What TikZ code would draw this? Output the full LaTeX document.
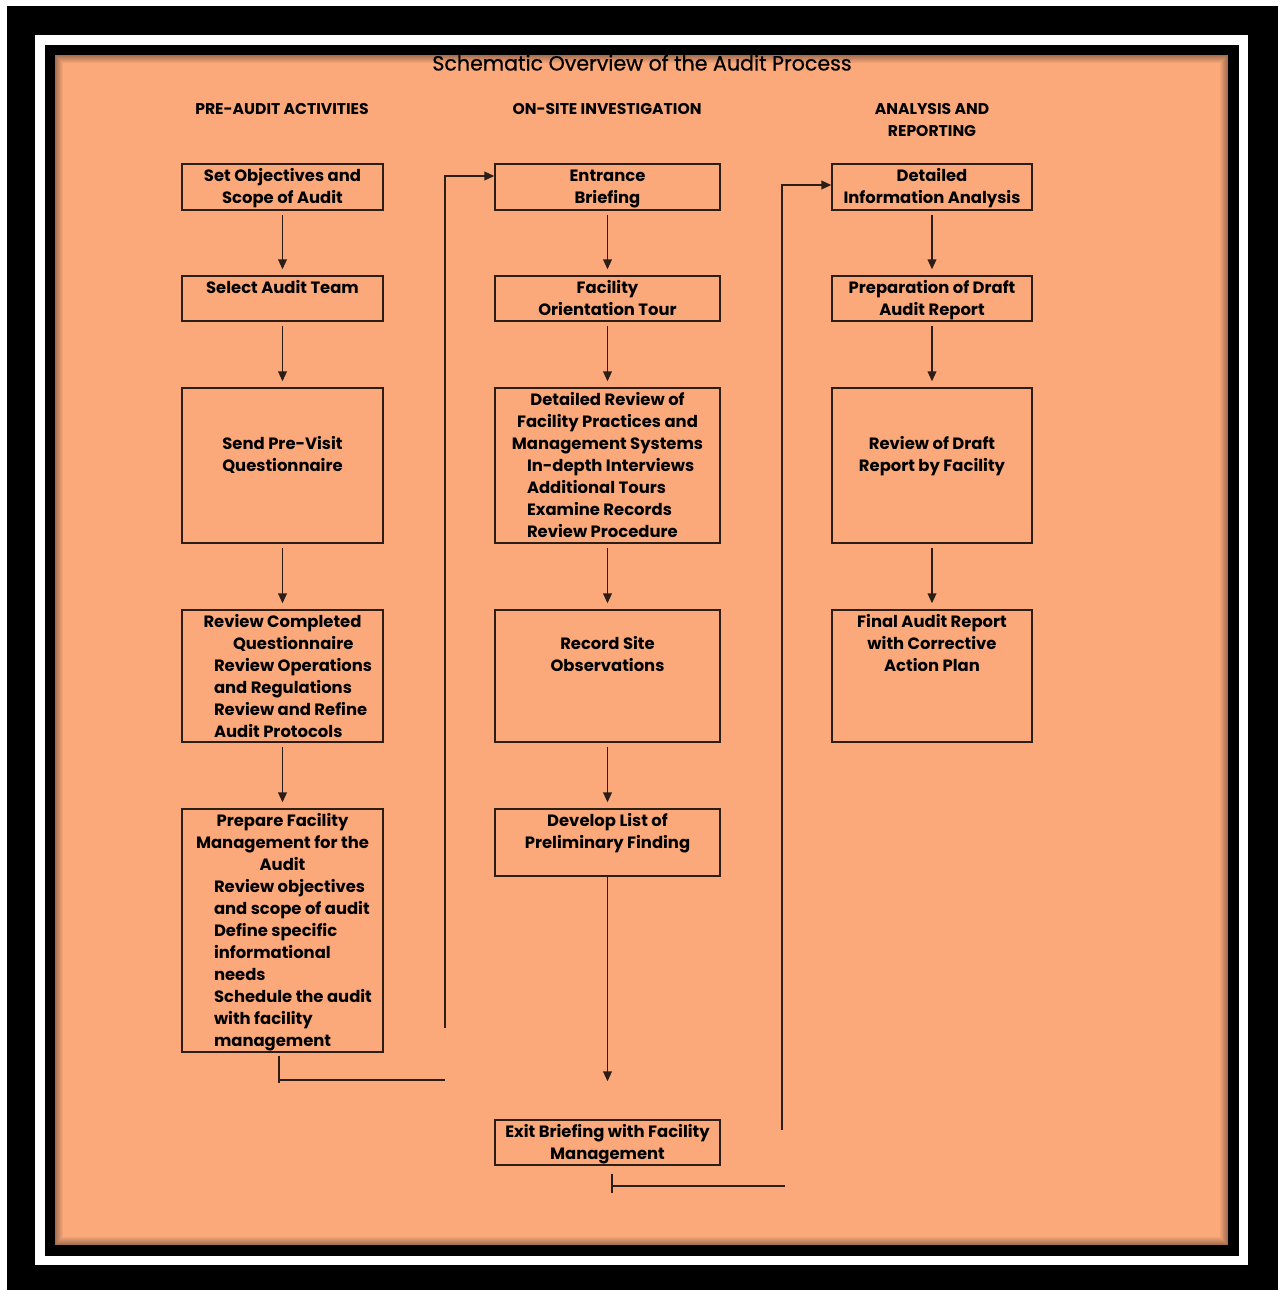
\documentclass[tikz,border=0pt]{standalone}
\usepackage{fontspec}
\setmainfont{Poppins}
\newfontfamily\titlefont[FakeBold=0.6]{Poppins}
\usetikzlibrary{arrows.meta}
\definecolor{salmon}{HTML}{FBA97A}
\definecolor{edge}{HTML}{2A1E17}
\newlength\pu
\setlength\pu{0.5pt}
\newcommand{\boxtxt}[4]{\parbox[c][#2\pu][t]{#1\pu}{\centering\vspace*{\dimexpr#3\pu-7.7pt\relax}\strut#4}}
\newcommand{\lline}[2]{\makebox[\linewidth][l]{\hspace*{#1\pu}#2}}
\tikzset{stage/.style = {draw = edge, line width = 0.7pt, inner sep = 0, font = \bfseries\fontsize{8.2}{11}\selectfont}}
\tikzset{head/.style = {inner sep = 0, anchor = north, align = center, font = \bfseries\fontsize{7.8}{11}\selectfont}}
\tikzset{flow/.style = {draw = edge, line width = 0.7pt, -{Triangle[length=5pt, width=4.4pt]}, shorten <= 2pt, shorten >= 3pt}}
\tikzset{wire/.style = {draw = edge, line width = 0.7pt}}

\begin{document}
\begin{tikzpicture}[x=0.5pt, y=-0.5pt]
  \useasboundingbox (0,0) rectangle (1285,1290);
  \fill[white] (0,0) rectangle (1285,1290);
  \fill[black] (7,6) rectangle (1278,1290);
  \fill[white] (35,35) rectangle (1248,1265);
  \fill[black] (45,45) rectangle (1239,1256);
  \fill[salmon] (55,55) rectangle (1228,1245);
  % soft inner edge
  \foreach \i [evaluate = \i as \op using 0.34-0.042*\i] in {0,...,7}
    \draw[black, opacity = \op, line width = 0.5pt] ({55.5+\i},{55.5+\i}) rectangle ({1227.5-\i},{1244.5-\i});

  \node[anchor = base, font = \titlefont\fontsize{10.3}{13}\selectfont] (title) at (642,70.5) {Schematic Overview of the Audit Process};
  \node[head] (h1) at (282,103) {PRE-AUDIT ACTIVITIES};
  \node[head] (h2) at (607,103) {ON-SITE INVESTIGATION};
  \node[head] (h3) at (932,103) {ANALYSIS AND\\REPORTING};

  \node[stage] (pre1) at (282.5,187) {\boxtxt{201}{46}{17}{Set Objectives and\\Scope of Audit}};
  \node[stage] (pre2) at (282.5,298.5) {\boxtxt{201}{45}{17}{Select Audit Team}};
  \node[stage] (pre3) at (282.5,465.5) {\boxtxt{201}{155}{61}{Send Pre-Visit\\Questionnaire}};
  \node[stage] (pre4) at (282.5,676) {\boxtxt{201}{132}{17}{Review Completed\\\lline{51}{Questionnaire}\\\lline{32}{Review Operations}\\\lline{32}{and Regulations}\\\lline{32}{Review and Refine}\\\lline{32}{Audit Protocols}}};
  \node[stage] (pre5) at (282.5,930.5) {\boxtxt{201}{243}{17}{Prepare Facility\\Management for the\\Audit\\\lline{32}{Review objectives}\\\lline{32}{and scope of audit}\\\lline{32}{Define specific}\\\lline{32}{informational}\\\lline{32}{needs}\\\lline{32}{Schedule the audit}\\\lline{32}{with facility}\\\lline{32}{management}}};

  \node[stage] (site1) at (607.5,187) {\boxtxt{225}{46}{17}{Entrance\\Briefing}};
  \node[stage] (site2) at (607.5,298.5) {\boxtxt{225}{45}{17}{Facility\\Orientation Tour}};
  \node[stage] (site3) at (607.5,465.5) {\boxtxt{225}{155}{17}{Detailed Review of\\Facility Practices and\\Management Systems\\\lline{32}{In-depth Interviews}\\\lline{32}{Additional Tours}\\\lline{32}{Examine Records}\\\lline{32}{Review Procedure}}};
  \node[stage] (site4) at (607.5,676) {\boxtxt{225}{132}{39}{Record Site\\Observations}};
  \node[stage] (site5) at (607.5,842.5) {\boxtxt{225}{67}{17}{Develop List of\\Preliminary Finding}};
  \node[stage] (site6) at (607.5,1142.5) {\boxtxt{225}{45}{17}{Exit Briefing with Facility\\Management}};

  \node[stage] (rep1) at (932,187) {\boxtxt{200}{46}{17}{Detailed\\Information Analysis}};
  \node[stage] (rep2) at (932,298.5) {\boxtxt{200}{45}{17}{Preparation of Draft\\Audit Report}};
  \node[stage] (rep3) at (932,465.5) {\boxtxt{200}{155}{61}{Review of Draft\\Report by Facility}};
  \node[stage] (rep4) at (932,676) {\boxtxt{200}{132}{17}{Final Audit Report\\with Corrective\\Action Plan}};

  \foreach \a/\b in {pre1/pre2, pre2/pre3, pre3/pre4, pre4/pre5, site1/site2, site2/site3, site3/site4, site4/site5, rep1/rep2, rep2/rep3, rep3/rep4}
    \draw[flow] (\a) -- (\b);
  \draw[flow, shorten <= 0pt, shorten >= 19pt] (site5) -- (site6);

  % back to the next column
  \coordinate (tick1) at (279,1083);
  \coordinate (turn1) at (445,1080);
  \coordinate (rise1) at (445,1028);
  \coordinate (top1) at (445,176);
  \draw[wire] ([yshift=-1.5pt]pre5.south -| tick1) -- (tick1);
  \draw[wire] (tick1 |- turn1) -- (turn1);
  \draw[wire, -{Triangle[length=5pt, width=4.4pt]}] (rise1) -- (top1) -- (top1 -| site1.west);

  \coordinate (tick2) at (612,1193);
  \coordinate (turn2) at (785,1186);
  \coordinate (rise2) at (782,1130);
  \coordinate (top2) at (782,185);
  \draw[wire] ([yshift=-4pt]site6.south -| tick2) -- (tick2);
  \draw[wire] (tick2 |- turn2) -- (turn2);
  \draw[wire, -{Triangle[length=5pt, width=4.4pt]}] (rise2) -- (top2) -- (top2 -| rep1.west);
\end{tikzpicture}
\end{document}
